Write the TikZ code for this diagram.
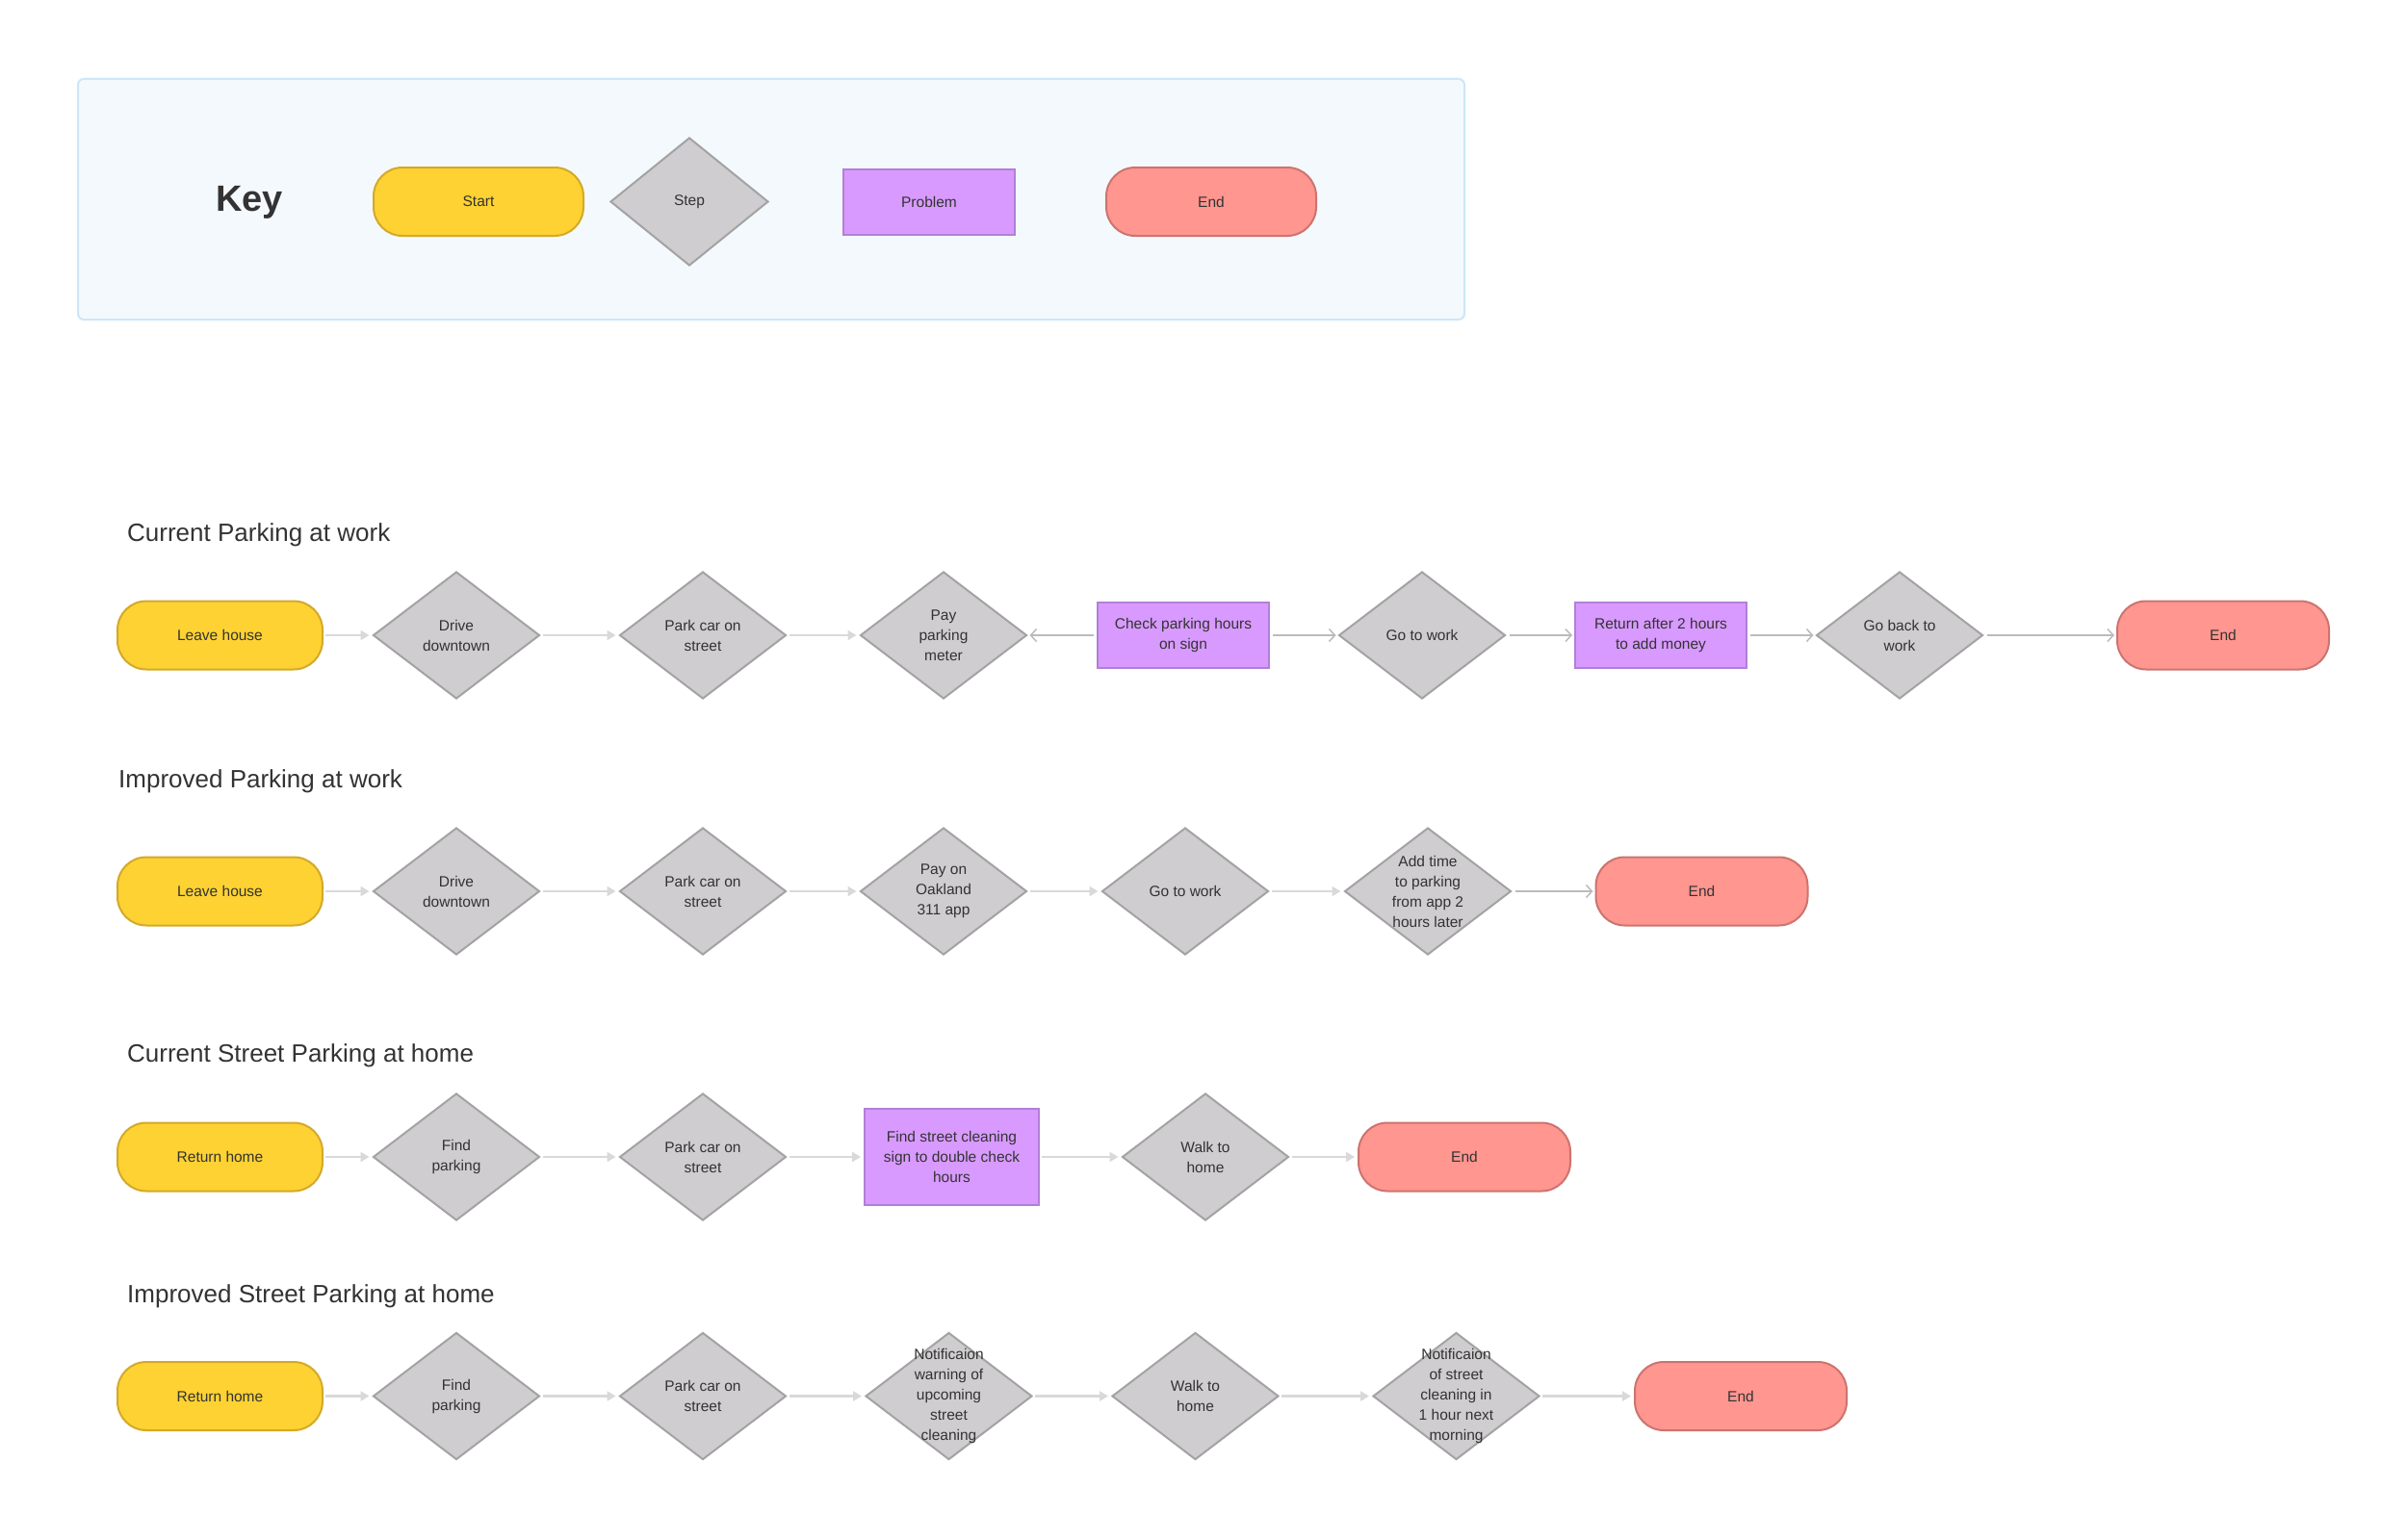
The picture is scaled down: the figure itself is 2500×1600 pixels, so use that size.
\documentclass[tikz,border=0pt]{standalone}
\usepackage{fontspec}
\setmainfont{Liberation Sans}
\usetikzlibrary{shapes.geometric,arrows.meta}
\definecolor{yfill}{HTML}{FDD232}
\definecolor{ydraw}{HTML}{D4A92A}
\definecolor{gfill}{HTML}{CFCDCF}
\definecolor{gdraw}{HTML}{A3A3A3}
\definecolor{pfill}{HTML}{D89AFE}
\definecolor{pdraw}{HTML}{B27FD6}
\definecolor{rfill}{HTML}{FF968F}
\definecolor{rdraw}{HTML}{CC7470}
\definecolor{txt}{HTML}{333333}
\definecolor{keyfill}{HTML}{F4F9FD}
\definecolor{keydraw}{HTML}{CDE7F7}
\definecolor{arrlight}{HTML}{D9D9D9}
\definecolor{arrdark}{HTML}{BBBBBB}
\tikzset{
  nodetext/.style={font=\fontsize{15.5}{21}\selectfont, text=txt, align=center},
  startnode/.style={nodetext, rectangle, rounded corners=30pt, minimum width=213pt, minimum height=71pt, fill=yfill, draw=ydraw, line width=2pt, inner sep=0pt},
  endnode/.style={nodetext, rectangle, rounded corners=30pt, minimum width=220pt, minimum height=71pt, fill=rfill, draw=rdraw, line width=2pt, inner sep=0pt},
  probnode/.style={nodetext, rectangle, minimum width=178pt, minimum height=68pt, fill=pfill, draw=pdraw, line width=2pt, inner sep=0pt},
  stepnode/.style={diamond, minimum width=173pt, minimum height=132pt, inner sep=0pt, fill=gfill, draw=gdraw, line width=2pt},
  steptext/.style={nodetext, inner sep=0pt},
  titletext/.style={font=\fontsize{26}{30}\selectfont, text=txt, anchor=base west, inner sep=0pt},
  flowlight/.style={draw=arrlight, line width=2.5pt, -{Triangle[length=9pt,width=10pt]}, shorten >=3pt, shorten <=2pt},
  flowdark/.style={draw=arrdark, line width=2pt, -{Straight Barb[length=6pt,width=13pt,line width=1.5pt]}, shorten >=2pt, shorten <=3pt},
}
\newcommand{\stepat}[4]{\node[stepnode, label={[steptext]center:{#4}}] (#1) at (#2,#3) {};}
\begin{document}
\begin{tikzpicture}[x=1pt,y=-1pt]
\useasboundingbox[fill=white] (0,0) rectangle (2500,1600);

% Key
\node[draw=keydraw, fill=keyfill, line width=2pt, rounded corners=6pt, minimum width=1440pt, minimum height=250pt, inner sep=0pt] (keybox) at (801,207) {};
\node[font=\bfseries\fontsize{38}{44}\selectfont, text=txt] (keylabel) at (259,210) {Key};
\node[startnode, minimum width=218pt] (kstart) at (497,209.5) {Start};
\node[stepnode, minimum width=164pt, minimum height=133pt, label={[steptext]center:Step}] (kstep) at (716,209.5) {};
\node[probnode] (kprob) at (965,210) {Problem};
\node[endnode, minimum width=218pt] (kend) at (1258,209.5) {End};

% Row 1
\node[titletext] (t1) at (132,562) {Current Parking at work};
\node[startnode] (a1) at (228.5,660) {Leave house};
\stepat{a2}{474}{660}{Drive\\downtown}
\stepat{a3}{730}{660}{Park car on\\street}
\stepat{a4}{980}{660}{Pay\\parking\\meter}
\node[probnode] (a5) at (1229,660) {Check parking hours\\on sign};
\stepat{a6}{1477}{660}{Go to work}
\node[probnode] (a7) at (1725,660) {Return after 2 hours\\to add money};
\stepat{a8}{1973}{660}{Go back to\\work}
\node[endnode] (a9) at (2309,660) {End};
\draw[flowlight] (a1) -- (a2);
\draw[flowlight] (a2) -- (a3);
\draw[flowlight] (a3) -- (a4);
\draw[flowdark] (a5) -- (a4);
\draw[flowdark] (a5) -- (a6);
\draw[flowdark] (a6) -- (a7);
\draw[flowdark] (a7) -- (a8);
\draw[flowdark] (a8) -- (a9);

% Row 2
\node[titletext] (t2) at (123,818) {Improved Parking at work};
\node[startnode] (b1) at (228.5,926) {Leave house};
\stepat{b2}{474}{926}{Drive\\downtown}
\stepat{b3}{730}{926}{Park car on\\street}
\stepat{b4}{980}{926}{Pay on\\Oakland\\311 app}
\stepat{b5}{1231}{926}{Go to work}
\stepat{b6}{1483}{926}{Add time\\to parking\\from app 2\\hours later}
\node[endnode] (b7) at (1767.5,926) {End};
\draw[flowlight] (b1) -- (b2);
\draw[flowlight] (b2) -- (b3);
\draw[flowlight] (b3) -- (b4);
\draw[flowlight] (b4) -- (b5);
\draw[flowlight] (b5) -- (b6);
\draw[flowdark] (b6) -- (b7);

% Row 3
\node[titletext] (t3) at (132,1103) {Current Street Parking at home};
\node[startnode] (c1) at (228.5,1202) {Return home};
\stepat{c2}{474}{1202}{Find\\parking}
\stepat{c3}{730}{1202}{Park car on\\street}
\node[probnode, minimum width=181pt, minimum height=100pt] (c4) at (988.5,1202) {Find street cleaning\\sign to double check\\hours};
\stepat{c5}{1252}{1202}{Walk to\\home}
\node[endnode] (c6) at (1521,1202) {End};
\draw[flowlight] (c1) -- (c2);
\draw[flowlight] (c2) -- (c3);
\draw[flowlight] (c3) -- (c4);
\draw[flowlight] (c4) -- (c5);
\draw[flowlight] (c5) -- (c6);

% Row 4
\node[titletext] (t4) at (132,1353) {Improved Street Parking at home};
\node[startnode] (d1) at (228.5,1450.5) {Return home};
\stepat{d2}{474}{1450.5}{Find\\parking}
\stepat{d3}{730}{1450.5}{Park car on\\street}
\stepat{d4}{985.5}{1450.5}{Notificaion\\warning of\\upcoming\\street\\cleaning}
\stepat{d5}{1241.5}{1450.5}{Walk to\\home}
\stepat{d6}{1512.5}{1450.5}{Notificaion\\of street\\cleaning in\\1 hour next\\morning}
\node[endnode] (d7) at (1808,1450.5) {End};
\draw[flowlight] (d1) -- (d2);
\draw[flowlight] (d2) -- (d3);
\draw[flowlight] (d3) -- (d4);
\draw[flowlight] (d4) -- (d5);
\draw[flowlight] (d5) -- (d6);
\draw[flowlight] (d6) -- (d7);
\end{tikzpicture}
\end{document}
